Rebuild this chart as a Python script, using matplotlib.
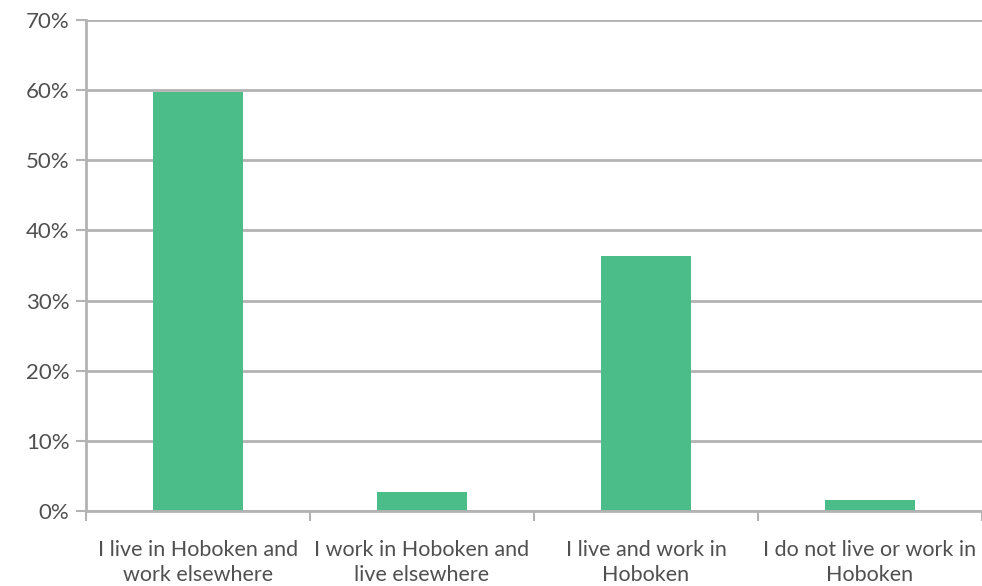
import matplotlib.pyplot as plt
from matplotlib.ticker import FixedLocator, PercentFormatter

plt.rcParams["font.family"] = ["Lato", "DejaVu Sans"]

categories = [
    "I live in Hoboken and\nwork elsewhere",
    "I work in Hoboken and\nlive elsewhere",
    "I live and work in\nHoboken",
    "I do not live or work in\nHoboken",
]
shares = [59.7, 2.7, 36.4, 1.6]
y_ticks = [0, 10, 20, 30, 40, 50, 60, 70]

bar_color = "#4bbd88"
grid_color = "#b3b3b3"
text_color = "#505050"

fig = plt.figure(figsize=(9.82, 5.86), dpi=100)
ax = fig.add_axes([0.0876, 0.128, 0.9124, 0.838])

x = list(range(len(categories)))
ax.bar(x, shares, width=0.4, color=bar_color, zorder=3)

ax.set_xlim(-0.5, len(categories) - 0.5)
ax.set_ylim(0, 70)
ax.set_yticks(y_ticks)
ax.yaxis.set_major_formatter(PercentFormatter(decimals=0))
ax.yaxis.grid(True, color=grid_color, linewidth=2, zorder=0)

ax.set_xticks(x)
ax.set_xticklabels(categories, fontsize=15.5, color=text_color, linespacing=1.3)
ax.xaxis.set_minor_locator(FixedLocator([i - 0.5 for i in range(len(categories) + 1)]))
ax.tick_params(axis="x", which="major", length=0, pad=21)
ax.tick_params(axis="x", which="minor", length=7, width=1.5, color=grid_color)
ax.tick_params(axis="y", length=7, width=1.5, color=grid_color, labelsize=16,
               labelcolor=text_color, pad=5)

for side in ["top", "right"]:
    ax.spines[side].set_visible(False)
for side in ["left", "bottom"]:
    ax.spines[side].set_color(grid_color)
    ax.spines[side].set_linewidth(2)
    ax.spines[side].set_zorder(4)

fig.savefig("out.png", dpi=100)
